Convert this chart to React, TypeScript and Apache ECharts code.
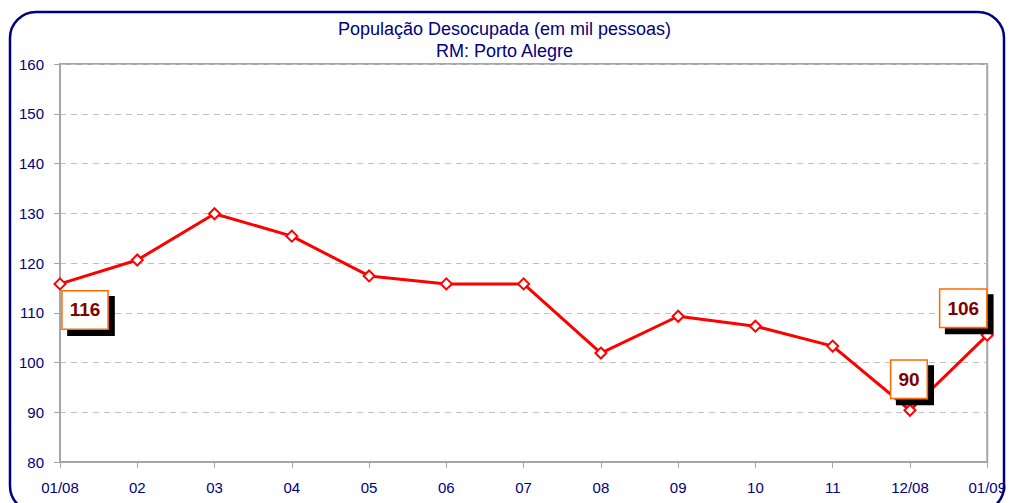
import React, { useEffect, useRef } from "react";
import * as echarts from "echarts";

const categories = ["01/08", "02", "03", "04", "05", "06", "07", "08", "09", "10", "11", "12/08", "01/09"];
const values = [115.8, 120.6, 129.9, 125.4, 117.4, 115.8, 115.8, 101.9, 109.3, 107.3, 103.3, 90.4, 105.5];
const labelTexts: Record<number, string> = { 0: "116", 11: "90", 12: "106" };
const labelOffsets: Record<number, [number, number]> = { 0: [25, 26], 11: [-1, -31], 12: [-24, -27] };
const titleLines = ["População Desocupada (em mil pessoas)", "RM: Porto Alegre"];

const FONT = "'Liberation Sans', Arial, sans-serif";
const NAVY = "#000080";

export default function App() {
  const ref = useRef<HTMLDivElement>(null);
  useEffect(() => {
    if (!ref.current) return;
    const chart = echarts.init(ref.current, null, { renderer: "svg" });
    const data = values.map((v, i) => {
      if (labelTexts[i] === undefined) return v;
      return {
        value: v,
        label: {
          show: true,
          position: "inside",
          offset: labelOffsets[i],
          formatter: labelTexts[i],
          color: "#800000",
          fontWeight: "bold",
          fontSize: 19,
          fontFamily: FONT,
          backgroundColor: "#ffffff",
          borderColor: "#FF6A00",
          borderWidth: 1.5,
          padding: [8, 7, 7, 7],
          lineHeight: 22,
          shadowColor: "#000000",
          shadowOffsetX: 6,
          shadowOffsetY: 6,
          shadowBlur: 0,
        },
      };
    });
    chart.setOption({
      animation: false,
      backgroundColor: "#ffffff",
      title: {
        text: titleLines.join("\n"),
        left: "center",
        top: 18,
        padding: 0,
        textStyle: { color: NAVY, fontSize: 18, fontWeight: "normal", fontFamily: FONT, lineHeight: 22 },
      },
      graphic: [
        {
          type: "rect",
          shape: { x: 10, y: 12, width: 994, height: 500, r: 26 },
          style: { fill: "none", stroke: NAVY, lineWidth: 2.5 },
          silent: true,
          z: 100,
        },
      ],
      grid: {
        left: 60,
        right: 20,
        top: 64,
        bottom: 41,
        show: true,
        borderColor: "#A6A6A6",
        borderWidth: 2,
        backgroundColor: "transparent",
      },
      xAxis: {
        type: "category",
        data: categories,
        boundaryGap: false,
        axisLine: { lineStyle: { color: "#A6A6A6", width: 2 } },
        axisTick: { show: true, length: 6, inside: false, lineStyle: { color: "#A6A6A6" } },
        axisLabel: { color: NAVY, fontSize: 15, fontFamily: FONT, margin: 18 },
        splitLine: { show: false },
      },
      yAxis: {
        type: "value",
        min: 80,
        max: 160,
        interval: 10,
        axisLine: { show: true, lineStyle: { color: "#A6A6A6", width: 2 } },
        axisTick: { show: true, length: 6, lineStyle: { color: "#A6A6A6" } },
        axisLabel: { color: NAVY, fontSize: 15, fontFamily: FONT, margin: 16 },
        splitLine: { show: true, lineStyle: { color: "#C0C0C0", type: [6, 5], width: 1 } },
      },
      series: [
        {
          type: "line",
          data,
          symbol: "diamond",
          symbolSize: 11,
          lineStyle: { color: "#FF0000", width: 3 },
          itemStyle: { color: "#ffffff", borderColor: "#FF0000", borderWidth: 2 },
          label: { show: false },
          z: 5,
        },
      ],
    });
    return () => chart.dispose();
  }, []);
  return <div ref={ref} style={{ position: "absolute", left: 0, top: 0, width: 1009, height: 503 }} />;
}
